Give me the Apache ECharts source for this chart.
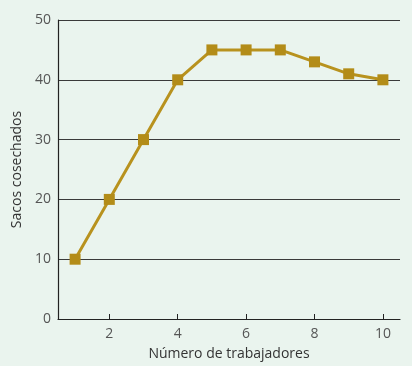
<!DOCTYPE html>
<html>
<head>
<meta charset="utf-8">
<script src="https://cdn.jsdelivr.net/npm/echarts@6/dist/echarts.min.js"></script>
<style>
  html, body { margin: 0; padding: 0; background: #eaf4ee; }
  #chart { width: 412px; height: 366px; }
</style>
</head>
<body>
<div id="chart"></div>
<script>
const workers = [1, 2, 3, 4, 5, 6, 7, 8, 9, 10];
const sacks = [10, 20, 30, 40, 45, 45, 45, 43, 41, 40];
const xTicks = [2, 4, 6, 8, 10];

const chart = echarts.init(document.getElementById('chart'));
const font = '"Open Sans", "Noto Sans", sans-serif';

chart.setOption({
  backgroundColor: '#eaf4ee',
  animation: false,
  grid: { left: 58, top: 20, right: 12, bottom: 46 },
  xAxis: {
    type: 'value',
    min: 0.5,
    max: 10.5,
    name: 'Número de trabajadores',
    nameLocation: 'middle',
    nameGap: 28,
    nameTextStyle: { fontFamily: font, fontSize: 14, color: '#333' },
    axisLine: { lineStyle: { color: '#222', width: 1.2 } },
    axisTick: { show: true, inside: true, length: 5, customValues: xTicks, lineStyle: { color: '#222' } },
    axisLabel: { customValues: xTicks, fontFamily: font, fontSize: 14, color: '#555', margin: 8 },
    splitLine: { show: false }
  },
  yAxis: {
    type: 'value',
    min: 0,
    max: 50,
    interval: 10,
    name: 'Sacos cosechados',
    nameLocation: 'middle',
    nameGap: 33,
    nameTextStyle: { fontFamily: font, fontSize: 14, color: '#333' },
    axisLine: { show: true, lineStyle: { color: '#222', width: 1.2 } },
    axisTick: { show: false },
    axisLabel: { fontFamily: font, fontSize: 14, color: '#555', margin: 7 },
    splitLine: { show: true, lineStyle: { color: '#3a3a3a', width: 1 } }
  },
  series: [{
    type: 'line',
    data: workers.map((w, i) => [w, sacks[i]]),
    symbol: 'rect',
    symbolSize: 11,
    lineStyle: { color: '#b8921e', width: 3 },
    itemStyle: { color: '#b38c18' }
  }]
});
</script>
</body>
</html>
